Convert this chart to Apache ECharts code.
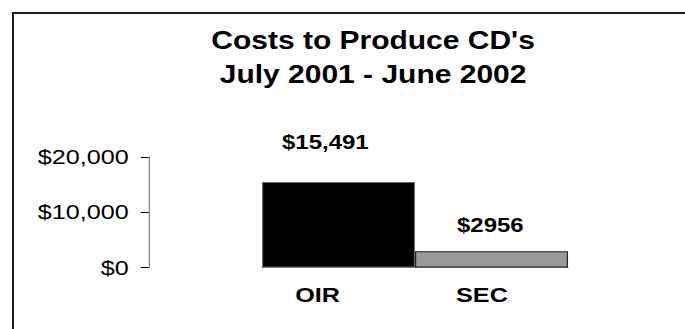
<!DOCTYPE html>
<html>
<head>
<meta charset="utf-8">
<script src="https://cdn.jsdelivr.net/npm/echarts@6/dist/echarts.min.js"></script>
<style>
  html, body { margin: 0; padding: 0; background: #fff; overflow: hidden; }
  #chart {
    width: 571px;
    height: 329px;
    /* the artwork is drawn in a slightly narrower space and widened to the page */
    transform: scaleX(1.19965);
    transform-origin: 0 0;
  }
</style>
</head>
<body>
<div id="chart"></div>
<script>
// Cost per producing unit, July 2001 - June 2002
const categories = ['OIR', 'SEC'];
const costs = [15491, 2956];
const costLabels = ['$15,491', '$2956'];
const yTicks = [0, 10000, 20000];
const titleLines = ["Costs to Produce CD's", 'July 2001 - June 2002'];

// presentation per bar
const barFill = ['#000000', '#999999'];
const barBorder = ['#666666', '#222222'];
const labelShift = [[-11, -30], [-1, -16]];
const categoryPad = [35, 16];

const FONT = '"Liberation Sans", Arial, sans-serif';

const chart = echarts.init(document.getElementById('chart'), null, { renderer: 'svg' });

const rich = {};
categories.forEach((c, i) => {
  rich['c' + i] = {
    fontFamily: FONT, fontSize: 21, fontWeight: 'bold', color: '#000',
    padding: [0, categoryPad[i], 0, 0]
  };
});

chart.setOption({
  animation: false,
  backgroundColor: '#ffffff',
  title: {
    text: titleLines.join('\n'),
    left: 311,
    top: 23,
    padding: 0,
    textAlign: 'center',
    textStyle: {
      fontFamily: FONT, fontSize: 25, fontWeight: 'bold', color: '#000', lineHeight: 34
    }
  },
  grid: { left: 218.4, right: 97.5, top: 157, bottom: 61.5, containLabel: false },
  xAxis: {
    type: 'category',
    data: categories,
    axisLine: { show: true, lineStyle: { color: '#808080', width: 1 } },
    axisTick: { show: false },
    axisLabel: {
      margin: 17,
      formatter: (v, i) => '{c' + i + '|' + v + '}',
      rich: rich
    }
  },
  yAxis: {
    type: 'value',
    min: yTicks[0],
    max: yTicks[yTicks.length - 1],
    interval: yTicks[1] - yTicks[0],
    offset: 94.4,
    splitLine: { show: false },
    axisLine: { show: true, lineStyle: { color: '#808080', width: 1 } },
    axisTick: { show: true, length: 6.7, lineStyle: { color: '#000', width: 1 } },
    axisLabel: {
      margin: 16.7,
      fontFamily: FONT, fontSize: 21, color: '#000',
      formatter: v => '$' + v.toLocaleString('en-US')
    }
  },
  series: [{
    type: 'bar',
    barCategoryGap: '0%',
    data: costs.map((v, i) => ({
      value: v,
      itemStyle: { color: barFill[i], borderColor: barBorder[i], borderWidth: 1 },
      label: { offset: labelShift[i] }
    })),
    label: {
      show: true,
      position: 'top',
      distance: 0,
      fontFamily: FONT, fontSize: 20, fontWeight: 'bold', color: '#000',
      formatter: p => costLabels[p.dataIndex]
    }
  }],
  graphic: [
    { type: 'line', silent: true, shape: { x1: 10.84, y1: 13, x2: 600, y2: 13 },
      style: { stroke: '#1a1a1a', lineWidth: 2 } },
    { type: 'line', silent: true, shape: { x1: 10.84, y1: 12, x2: 10.84, y2: 340 },
      style: { stroke: '#1a1a1a', lineWidth: 1.67 } }
  ]
});
</script>
</body>
</html>
